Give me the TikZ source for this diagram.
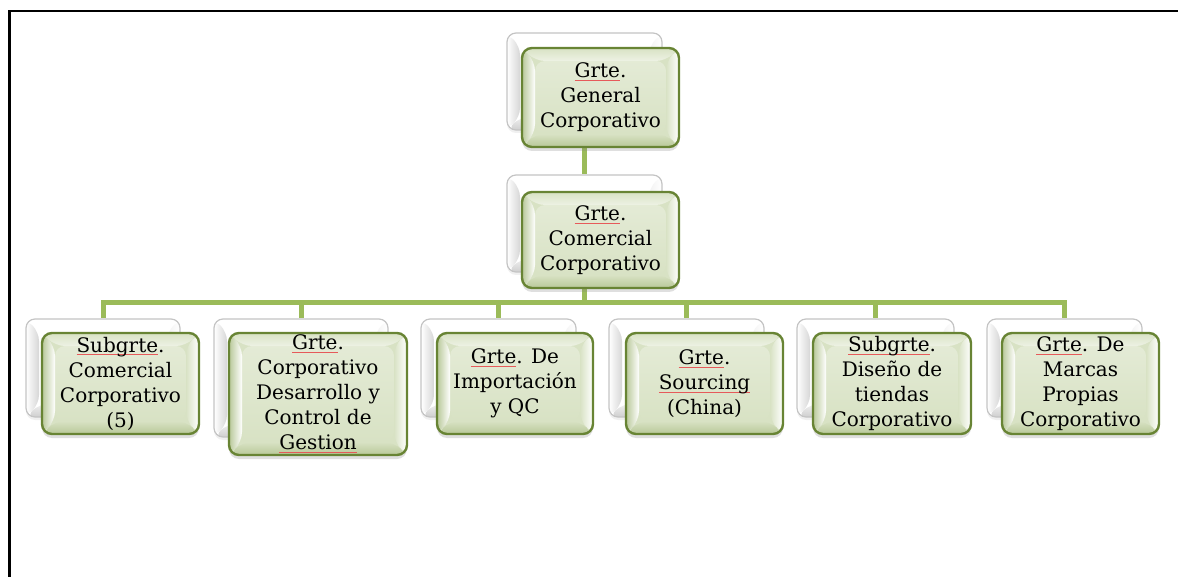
\documentclass[tikz,border=0pt]{standalone}
\usepackage{fontspec}
\setmainfont{DejaVu Serif}
\usetikzlibrary{shadows,backgrounds,calc}

\definecolor{linkgreen}{RGB}{155,187,89}
\definecolor{edgegreen}{RGB}{104,132,52}
\definecolor{facegreen}{RGB}{216,226,196}
\definecolor{darkface}{RGB}{184,200,152}
\definecolor{backedge}{RGB}{196,196,196}
\definecolor{spellred}{RGB}{230,90,90}

% thin red mark under a word flagged by the spell checker
\newcommand\spell[1]{\leavevmode\setbox0\hbox{#1}%
  \rlap{\textcolor{spellred}{\rule[-3pt]{\wd0}{0.6pt}}}\box0}

\tikzset{
  conn/.style={draw=linkgreen, line width=5pt},
  dims/.style 2 args={minimum width=#1pt, minimum height=#2pt},
  backbox/.style={rounded corners=9pt, draw=backedge, line width=1.2pt,
    fill=white, inner sep=0pt,
    drop shadow={opacity=0.12, shadow xshift=0pt, shadow yshift=-3pt},
    path picture={
      \path (path picture bounding box.south west) coordinate (pSW)
            (path picture bounding box.north east) coordinate (pNE);
      % left bevel
      \shade[left color=white, right color=gray!32]
        (pSW) -- (pSW |- pNE) -- ($(pSW |- pNE)+(13pt,-13pt)$)
        -- ($(pSW)+(13pt,13pt)$) -- cycle;
      % bottom bevel
      \shade[bottom color=gray!38, top color=gray!12]
        (pSW) -- (pNE |- pSW) -- ($(pNE |- pSW)+(-13pt,13pt)$)
        -- ($(pSW)+(13pt,13pt)$) -- cycle;
      % right bevel
      \shade[left color=gray!10, right color=white]
        (pNE |- pSW) -- (pNE) -- ($(pNE)+(-13pt,-13pt)$)
        -- ($(pNE |- pSW)+(-13pt,13pt)$) -- cycle;
    }},
  frontbox/.style={rounded corners=10pt, draw=edgegreen, line width=2.4pt,
    fill=facegreen, inner sep=0pt, align=center,
    font=\fontsize{20}{25}\selectfont,
    drop shadow={opacity=0.25, shadow xshift=0pt, shadow yshift=-4pt},
    path picture={
      \path (path picture bounding box.south west) coordinate (pSW)
            (path picture bounding box.north east) coordinate (pNE);
      % face
      \shade[top color=facegreen!70!white, bottom color=facegreen]
        ($(pSW)+(13pt,13pt)$) rectangle ($(pNE)+(-13pt,-13pt)$);
      % left bevel
      \shade[left color=darkface, right color=white]
        (pSW) -- (pSW |- pNE) -- ($(pSW |- pNE)+(13pt,-13pt)$)
        -- ($(pSW)+(13pt,13pt)$) -- cycle;
      % right bevel
      \shade[left color=facegreen, right color=white]
        (pNE |- pSW) -- (pNE) -- ($(pNE)+(-13pt,-13pt)$)
        -- ($(pNE |- pSW)+(-13pt,13pt)$) -- cycle;
      % top bevel
      \shade[top color=facegreen, bottom color=facegreen!45!white]
        (pSW |- pNE) -- (pNE) -- ($(pNE)+(-13pt,-13pt)$)
        -- ($(pSW |- pNE)+(13pt,-13pt)$) -- cycle;
      % bottom bevel
      \shade[top color=facegreen, bottom color=darkface]
        (pSW) -- (pNE |- pSW) -- ($(pNE |- pSW)+(-13pt,13pt)$)
        -- ($(pSW)+(13pt,13pt)$) -- cycle;
    }}
}

\begin{document}
\begin{tikzpicture}[x=1pt, y=-1pt]
  \useasboundingbox (0,0) rectangle (1178,577);

  % page frame
  \draw[line width=2.2pt] (1178,11) -- (9.5,11) -- (9.5,577);

  % top level
  \node[backbox, dims={155}{97}] (b0) at (584.5,81.5) {};
  \node[frontbox, dims={157}{99}] (f0) at (600.5,97.5)
    {\spell{Grte}.\\General\\Corporativo};

  % second level
  \node[backbox, dims={155}{97}] (b1) at (584.5,223.5) {};
  \node[frontbox, dims={157}{96}] (f1) at (600.5,240)
    {\spell{Grte}.\\Comercial\\Corporativo};

  % third level
  \node[backbox, dims={154}{98}] (c1b) at (103,368) {};
  \node[frontbox, dims={157}{101}] (c1) at (120.5,383.5)
    {\spell{Subgrte}.\\Comercial\\Corporativo\\(5)};

  \node[backbox, dims={174}{118}] (c2b) at (301,378) {};
  \node[frontbox, dims={178}{122}] (c2) at (318,394)
    {\spell{Grte}.\\Corporativo\\Desarrollo y\\Control de\\\spell{Gestion}};

  \node[backbox, dims={155}{98}] (c3b) at (498.5,368) {};
  \node[frontbox, dims={156}{101}] (c3) at (515,383.5)
    {\spell{Grte}. De\\Importación\\y QC};

  \node[backbox, dims={155}{98}] (c4b) at (686.5,368) {};
  \node[frontbox, dims={157}{101}] (c4) at (704.5,383.5)
    {\spell{Grte}.\\\spell{Sourcing}\\(China)};

  \node[backbox, dims={157}{98}] (c5b) at (875.5,368) {};
  \node[frontbox, dims={158}{101}] (c5) at (892,383.5)
    {\spell{Subgrte}.\\Diseño de\\tiendas\\Corporativo};

  \node[backbox, dims={155}{98}] (c6b) at (1064.5,368) {};
  \node[frontbox, dims={157}{101}] (c6) at (1080.5,383.5)
    {\spell{Grte}. De\\Marcas\\Propias\\Corporativo};

  % connectors, drawn behind the boxes
  \coordinate (bus) at (584.5,303);
  \begin{pgfonlayer}{background}
    \draw[conn] (b0) -- (b1);
    \draw[conn] (b1) -- (bus);
    \foreach \k in {c1b,c2b,c3b,c4b,c5b,c6b}
      \draw[conn] (bus) -| (\k.north);
  \end{pgfonlayer}
\end{tikzpicture}
\end{document}
